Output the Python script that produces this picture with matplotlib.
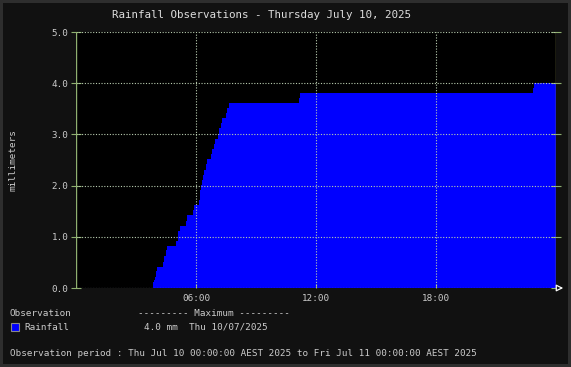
import numpy as np
import matplotlib.pyplot as plt
from matplotlib.patches import Rectangle

# cumulative rain (mm), step changes: hour of day -> value after the step
horas = [0.0, 3.83, 3.88, 3.93, 4.0, 4.05, 4.35, 4.4, 4.5, 4.55, 5.0, 5.1, 5.2,
         5.5, 5.55, 5.85, 5.9, 6.15, 6.2, 6.25, 6.3, 6.35, 6.4, 6.5, 6.55, 6.75,
         6.8, 6.9, 6.95, 7.1, 7.15, 7.25, 7.3, 7.5, 7.55, 7.65, 11.15, 11.2,
         22.85, 22.9, 24.0]
lluvia = [0.0, 0.12, 0.16, 0.21, 0.33, 0.41, 0.51, 0.62, 0.74, 0.82, 0.92, 1.11,
          1.21, 1.31, 1.43, 1.52, 1.62, 1.72, 1.91, 2.01, 2.11, 2.21, 2.3, 2.42,
          2.52, 2.62, 2.72, 2.81, 2.91, 3.01, 3.12, 3.22, 3.32, 3.42, 3.52, 3.61,
          3.71, 3.81, 3.91, 4.0, 4.0]

xticks = [6, 12, 18]
xlabels = ["06:00", "12:00", "18:00"]
yticks = [0, 1, 2, 3, 4, 5]
ylabels = ["0.0", "1.0", "2.0", "3.0", "4.0", "5.0"]

W, H = 571, 367
fondo = "#111111"
texto = "#cccccc"
rejilla = "#b8ccb0"
eje = "#8fb070"
fuente = "DejaVu Sans Mono"
tam = 6.65

fig = plt.figure(figsize=(W / 100, H / 100), dpi=100, facecolor="#2e2e2e")
fig.patches.append(Rectangle((3 / W, 3 / H), (W - 6) / W, (H - 6) / H,
                             transform=fig.transFigure, facecolor=fondo,
                             edgecolor="none", zorder=-1))

ax = fig.add_axes([76 / W, 1 - 288 / H, 480 / W, 256 / H])
ax.set_facecolor("black")
ax.fill_between(horas, lluvia, step="post", color="#0000ff", linewidth=0, zorder=1)
ax.set_xlim(0, 24)
ax.set_ylim(0, 5)

for x in xticks:
    ax.axvline(x, color=rejilla, linestyle=(0, (1, 1.5)), linewidth=0.8, zorder=2)
for y in yticks[1:]:
    ax.axhline(y, color=rejilla, linestyle=(0, (1, 1.5)), linewidth=0.8, zorder=2)
ax.axhline(0, color="#c8d8ff", linestyle=(0, (1, 1.5)), linewidth=0.8, zorder=2)

for s in ax.spines.values():
    s.set_visible(False)
ax.axvline(0, color=eje, linewidth=1, zorder=3)
ax.axvline(24, color="#8a8a50", linewidth=1, zorder=3)

ax.set_xticks(xticks)
ax.set_xticklabels(xlabels)
ax.set_yticks(yticks)
ax.set_yticklabels(ylabels)
ax.tick_params(axis="both", colors=eje, labelcolor=texto, labelsize=tam,
               length=4, width=0.8)
ax.tick_params(axis="y", direction="inout", length=7, pad=2, right=True)
ax.tick_params(axis="x", direction="in", length=3, pad=4)
for lab in ax.get_xticklabels() + ax.get_yticklabels():
    lab.set_family(fuente)

# arrow at the end of the x axis
ax.annotate("", xy=(24.5, 0), xytext=(23.9, 0), xycoords="data",
            arrowprops=dict(arrowstyle="-|>", fc=fondo, ec="white", lw=0.9,
                            mutation_scale=10), annotation_clip=False)

fig.text(261 / W, 1 - 15 / H, "Rainfall Observations - Thursday July 10, 2025",
         ha="center", va="center", color="#dddddd", fontsize=7.8, family=fuente)
fig.text(13 / W, 1 - 160 / H, "millimeters", rotation=90, ha="center",
         va="center", color=texto, fontsize=tam, family=fuente)

fig.text(10 / W, 1 - 314 / H, "Observation", ha="left", va="center",
         color=texto, fontsize=tam, family=fuente)
fig.text(138 / W, 1 - 314 / H, "--------- Maximum ---------", ha="left",
         va="center", color=texto, fontsize=tam, family=fuente)
fig.patches.append(Rectangle((11 / W, 1 - 331 / H), 8 / W, 8 / H,
                             transform=fig.transFigure, facecolor="#0000ff",
                             edgecolor="#888888", linewidth=0.8))
fig.text(24 / W, 1 - 327 / H, "Rainfall", ha="left", va="center",
         color=texto, fontsize=tam, family=fuente)
fig.text(144 / W, 1 - 327 / H, "4.0 mm  Thu 10/07/2025", ha="left",
         va="center", color=texto, fontsize=tam, family=fuente)
fig.text(10 / W, 1 - 353 / H,
         "Observation period : Thu Jul 10 00:00:00 AEST 2025 to Fri Jul 11 00:00:00 AEST 2025",
         ha="left", va="center", color=texto, fontsize=tam, family=fuente)

fig.savefig("out.png", dpi=100, facecolor=fig.get_facecolor())
